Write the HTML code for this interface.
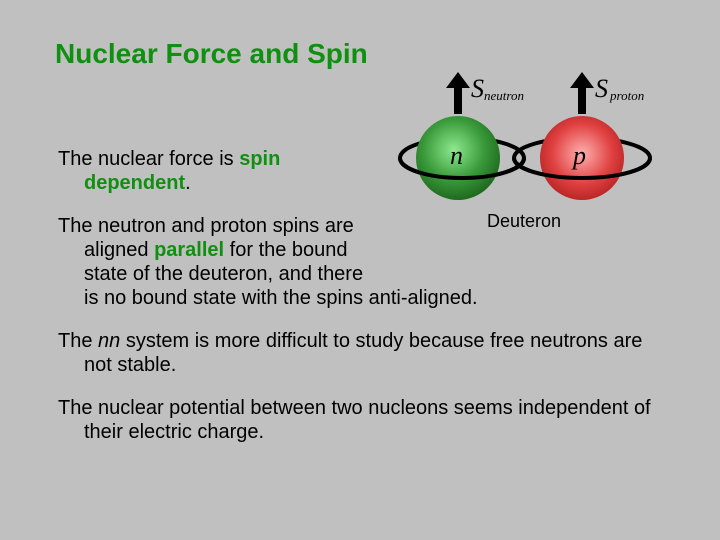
<!DOCTYPE html>
<html><head><meta charset="utf-8"><style>
body{margin:0;width:720px;height:540px;background:#c0c0c0;position:relative;overflow:hidden;font-family:"Liberation Sans",sans-serif;}
.t{position:absolute;font-size:20px;line-height:24px;color:#000;white-space:nowrap;}
.g{color:#109010;font-weight:bold;}
</style></head><body>
<div style="position:absolute;left:55px;top:38px;font-size:28px;font-weight:bold;color:#109010;white-space:nowrap">Nuclear Force and Spin</div>
<div class="t" style="left:58px;top:147px">The nuclear force is <span class="g">spin</span></div>
<div class="t" style="left:84px;top:171px"><span class="g">dependent</span>.</div>
<div class="t" style="left:58px;top:214px">The neutron and proton spins are</div>
<div class="t" style="left:84px;top:238px">aligned <span class="g">parallel</span> for the bound</div>
<div class="t" style="left:84px;top:262px">state of the deuteron, and there</div>
<div class="t" style="left:84px;top:286px">is no bound state with the spins anti-aligned.</div>
<div class="t" style="left:58px;top:329px">The <i>nn</i> system is more difficult to study because free neutrons are</div>
<div class="t" style="left:84px;top:353px">not stable.</div>
<div class="t" style="left:58px;top:396px">The nuclear potential between two nucleons seems independent of</div>
<div class="t" style="left:84px;top:420px">their electric charge.</div>
<svg style="position:absolute;left:0;top:0" width="720" height="540">
<defs>
<radialGradient id="gg" cx="0.45" cy="0.4" r="0.6"><stop offset="0" stop-color="#8fe88f"/><stop offset="0.6" stop-color="#3a9a3a"/><stop offset="1" stop-color="#1f6a1f"/></radialGradient>
<radialGradient id="rg" cx="0.5" cy="0.45" r="0.6"><stop offset="0" stop-color="#ffb0b0"/><stop offset="0.6" stop-color="#e04040"/><stop offset="1" stop-color="#b02020"/></radialGradient>
</defs>
<ellipse cx="462" cy="158" rx="62" ry="20" fill="none" stroke="#000" stroke-width="4"/>
<ellipse cx="582" cy="158" rx="68" ry="20" fill="none" stroke="#000" stroke-width="4"/>
<circle cx="458" cy="158" r="42" fill="url(#gg)"/>
<circle cx="582" cy="158" r="42" fill="url(#rg)"/>
<path d="M400,158 A62,20 0 0,0 524,158" fill="none" stroke="#000" stroke-width="4"/>
<path d="M514,158 A68,20 0 0,0 650,158" fill="none" stroke="#000" stroke-width="4"/>
<rect x="454" y="86" width="8" height="28" fill="#000"/><polygon points="446,88 458,72 470,88" fill="#000"/>
<rect x="578" y="86" width="8" height="28" fill="#000"/><polygon points="570,88 582,72 594,88" fill="#000"/>
<text x="471" y="97" font-family="Liberation Serif" font-style="italic" font-size="26">S</text>
<text x="484" y="100" font-family="Liberation Serif" font-style="italic" font-size="13">neutron</text>
<text x="595" y="97" font-family="Liberation Serif" font-style="italic" font-size="26">S</text>
<text x="610" y="100" font-family="Liberation Serif" font-style="italic" font-size="13">proton</text>
<text x="450" y="164" font-family="Liberation Serif" font-style="italic" font-size="26">n</text>
<text x="573" y="164" font-family="Liberation Serif" font-style="italic" font-size="26">p</text>
<text x="487" y="227" font-family="Liberation Sans" font-size="18">Deuteron</text>
</svg>
</body></html>
